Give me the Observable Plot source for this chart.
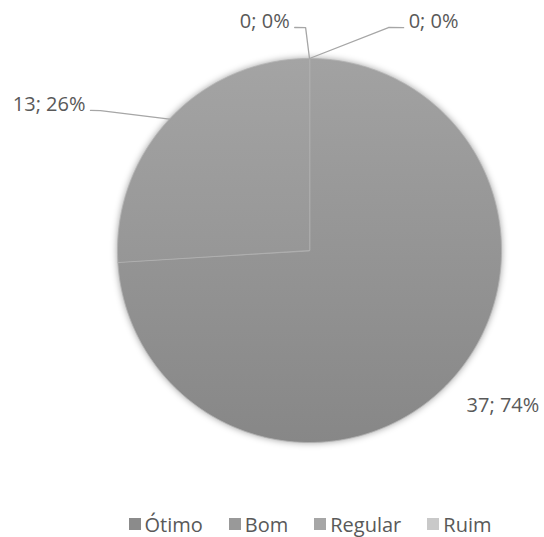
<!DOCTYPE html>
<html><head><meta charset="utf-8">
<script src="https://cdn.jsdelivr.net/npm/d3@7"></script>
<script src="https://cdn.jsdelivr.net/npm/@observablehq/plot@0.6"></script>
<style>
body{margin:0;background:#fff;font-family:"Open Sans",sans-serif;}
#legend{display:flex;justify-content:center;align-items:center;width:544px;height:38px;padding-left:76px;box-sizing:border-box;font-size:20px;color:#595959;}
#legend .item{display:flex;align-items:center;margin-right:26px;}
#legend .item:last-child{margin-right:0;}
#legend .sw{width:12px;height:12px;margin-right:4px;}
</style></head><body>
<div id="chart"></div>
<div id="legend"></div>
<script>
// ---- data ----
const categories = ["Ótimo", "Bom", "Regular", "Ruim"];
const values = [37, 13, 0, 0];
const percents = [74, 26, 0, 0];
// ---- styles ----
const legendColors = ["#8b8b8b", "#999999", "#a6a6a6", "#c9c9c9"];
const gradTop = ["#a2a2a2", "#a4a4a4", "#aaaaaa", "#cccccc"];
const gradBottom = ["#878787", "#8a8a8a", "#999999", "#bbbbbb"];
// label layout (polar, in units of the pie radius; angle in degrees clockwise from 12 o'clock)
const labelLayout = {
  "Ótimo":   {text: {a: 128.8, r: 1.293}, anchor: "middle", leader: null},
  "Bom":     {elbow: {a: -56.2, r: 1.310}, end: {a: -57.4, r: 1.354}, anchor: "end"},
  "Regular": {elbow: {a: -1.0, r: 1.161}, end: {a: -3.8, r: 1.164}, anchor: "end"},
  "Ruim":    {elbow: {a: 19.5, r: 1.232}, end: {a: 22.9, r: 1.260}, anchor: "start"}
};

const W = 544, H = 505, cx = 309, cy = 250, R = 192;
const rad = d => d * Math.PI / 180;
const polar = (aRad, r) => ({x: r * Math.sin(aRad), y: r * Math.cos(aRad)});

const total = d3.sum(values);
let acc = 0;
const slices = categories.map((c, i) => {
  const a0 = acc / total * 2 * Math.PI;
  acc += values[i];
  const a1 = acc / total * 2 * Math.PI;
  return {key: c, i, a0, a1, mid: (a0 + a1) / 2, value: values[i], pct: percents[i]};
});

function slicePoints(s) {
  const pts = [{x: 0, y: 0}];
  const n = Math.max(2, Math.ceil((s.a1 - s.a0) / (Math.PI / 180)));
  for (let k = 0; k <= n; k++) pts.push(polar(s.a0 + (s.a1 - s.a0) * k / n, 1));
  return pts;
}
const circle = d3.range(0, 360).map(d => polar(rad(d), 1));

const leaders = [];
const labels = [];
for (const s of slices) {
  const L = labelLayout[s.key];
  const txt = `${s.value}; ${s.pct}%`;
  if (L.leader === null) {
    const p = polar(rad(L.text.a), L.text.r);
    labels.push({...p, text: txt, anchor: "middle"});
  } else {
    const edge = polar(s.mid, 1);
    const el = polar(rad(L.elbow.a), L.elbow.r);
    const en = polar(rad(L.end.a), L.end.r);
    leaders.push({key: s.key, ...edge}, {key: s.key, ...el}, {key: s.key, ...en});
    labels.push({...en, text: txt, anchor: L.anchor});
  }
}

const textMark = anchor => Plot.text(labels.filter(d => d.anchor === anchor), {
  x: "x", y: "y", text: "text", textAnchor: anchor,
  dx: anchor === "end" ? -5 : anchor === "start" ? 5 : 0,
  dy: anchor === "middle" ? 0 : -6,
  fill: "#595959", fontSize: 20, lineAnchor: "middle"
});

const chart = Plot.plot({
  width: W, height: H, margin: 0,
  x: {domain: [-cx / R, (W - cx) / R], axis: null},
  y: {domain: [-(H - cy) / R, cy / R], axis: null},
  style: {fontFamily: '"Open Sans", sans-serif', background: "#fff"},
  marks: [
    Plot.line(circle, {x: "x", y: "y", fill: "#000000", fillOpacity: 0.4, stroke: "none", curve: "linear-closed", ariaDescription: "pie-shadow"}),
    ...slices.filter(s => s.value > 0).map(s =>
      Plot.line(slicePoints(s), {x: "x", y: "y", fill: legendColors[s.i], stroke: "#b3b3b3", strokeWidth: 0.8, curve: "linear-closed", ariaDescription: `slice-${s.i}`})
    ),
    Plot.line(leaders, {x: "x", y: "y", z: "key", stroke: "#a6a6a6", strokeWidth: 1.3}),
    textMark("middle"), textMark("end"), textMark("start")
  ]
});

// gradients + shadow filter
const svg = d3.select(chart);
const defs = svg.insert("defs", ":first-child");
categories.forEach((c, i) => {
  const g = defs.append("linearGradient").attr("id", `grad${i}`)
    .attr("gradientUnits", "userSpaceOnUse")
    .attr("x1", 0).attr("x2", 0).attr("y1", cy - R).attr("y2", cy + R);
  g.append("stop").attr("offset", "0%").attr("stop-color", gradTop[i]);
  g.append("stop").attr("offset", "100%").attr("stop-color", gradBottom[i]);
  svg.selectAll(`g[aria-description="slice-${i}"]`).attr("fill", `url(#grad${i})`);
  svg.selectAll(`g[aria-description="slice-${i}"] path`).attr("fill", `url(#grad${i})`);
});
const f = defs.append("filter").attr("id", "blur").attr("x", "-20%").attr("y", "-20%").attr("width", "140%").attr("height", "140%");
f.append("feGaussianBlur").attr("stdDeviation", 3.5);
svg.selectAll('g[aria-description="pie-shadow"]').attr("filter", "url(#blur)");

document.getElementById("chart").appendChild(chart);

// legend
const legend = d3.select("#legend");
categories.forEach((c, i) => {
  const it = legend.append("div").attr("class", "item");
  it.append("div").attr("class", "sw").style("background", legendColors[i]);
  it.append("span").text(c);
});
</script>
</body></html>
